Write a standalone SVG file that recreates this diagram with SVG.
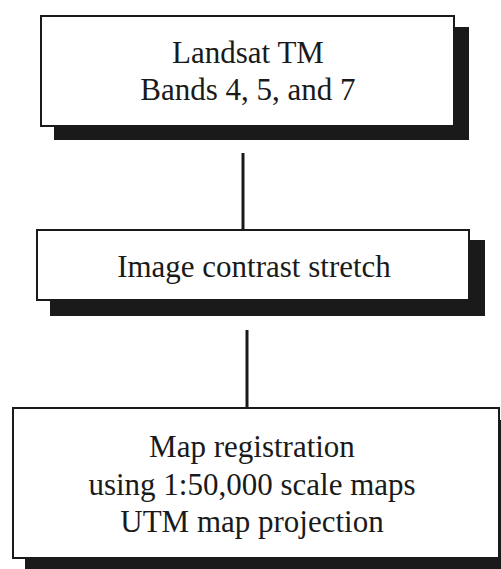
<svg xmlns="http://www.w3.org/2000/svg" width="501" height="569" viewBox="0 0 501 569">
<style>
.shadow{fill:#1a1a1a}
.box{fill:#fff;stroke:#1a1a1a;stroke-width:2}
.t{font-family:"Liberation Serif","Times New Roman",serif;font-size:31px;fill:#1a1a1a;text-anchor:middle}
.c{stroke:#1a1a1a;stroke-width:3;fill:none}
</style>
<rect width="501" height="569" fill="#fff"/>
<g id="connectors">
<line class="c" x1="243" y1="153" x2="243" y2="230"/>
<line class="c" x1="247" y1="330" x2="247" y2="408"/>
</g>
<g id="node1">
<rect class="shadow" x="54" y="27" width="415" height="113"/>
<rect class="box" x="41" y="16" width="413" height="110"/>
<text class="t" x="248" y="63">Landsat TM</text>
<text class="t" x="248" y="100">Bands 4, 5, and 7</text>
</g>
<g id="node2">
<rect class="shadow" x="50" y="240" width="435" height="76"/>
<rect class="box" x="37" y="230" width="432" height="70"/>
<text class="t" x="254" y="277">Image contrast stretch</text>
</g>
<g id="node3">
<rect class="shadow" x="25" y="420" width="480" height="160"/>
<rect class="box" x="13" y="408" width="486" height="150"/>
<text class="t" x="252" y="457">Map registration</text>
<text class="t" x="252" y="495">using 1:50,000 scale maps</text>
<text class="t" x="252" y="532">UTM map projection</text>
</g>
</svg>
